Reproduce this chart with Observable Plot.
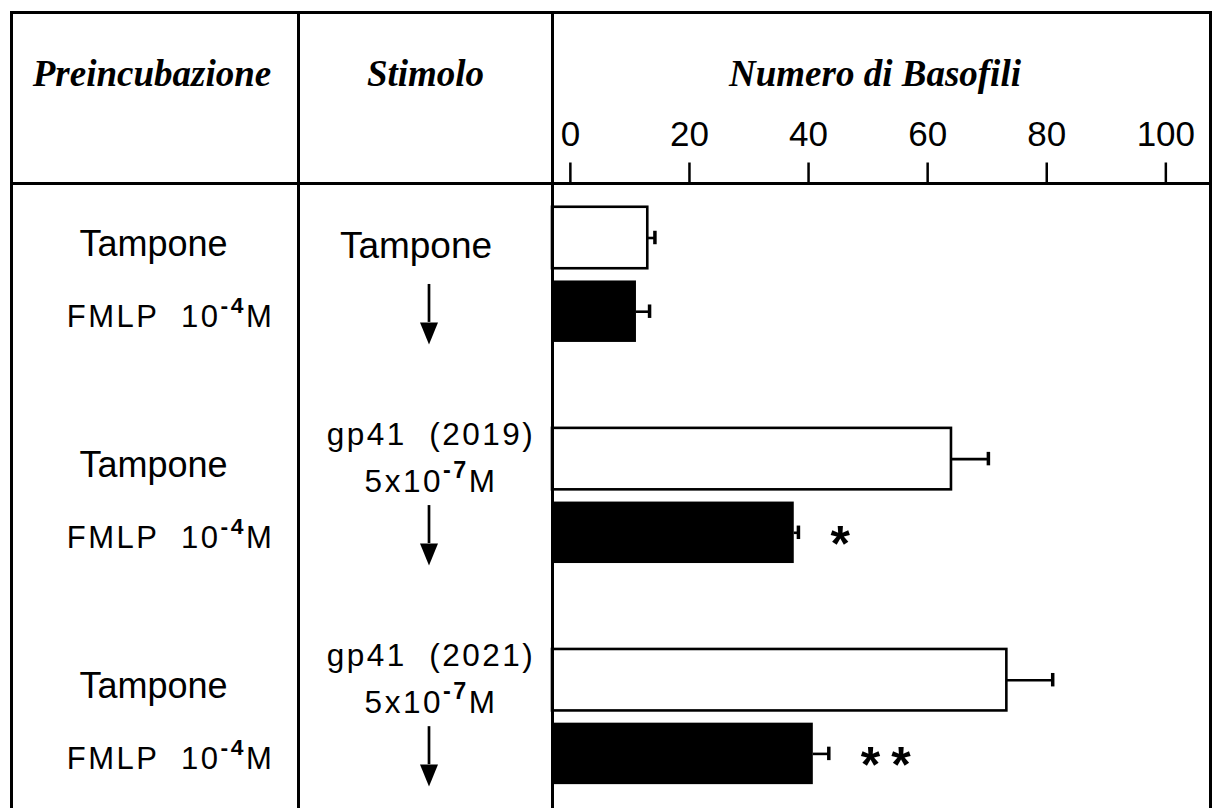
<!DOCTYPE html>
<html>
<head>
<meta charset="utf-8">
<script src="https://cdn.jsdelivr.net/npm/d3@7"></script>
<script src="https://cdn.jsdelivr.net/npm/@observablehq/plot@0.6"></script>
<style>
  html, body { margin: 0; padding: 0; background: #fff; }
  #chart { position: relative; width: 1212px; height: 808px; overflow: hidden; background: #fff; }
  .col { position: absolute; top: 0; }
  .col svg { display: block; overflow: visible; }
  .hdr { position: absolute; top: 55px; font: italic bold 37px/37px "Liberation Serif", "Times New Roman", serif;
         text-align: center; color: #000; white-space: nowrap; }
  .rule { position: absolute; background: #000; }
</style>
</head>
<body>
<div id="chart"></div>
<script>
// ---------------- data ----------------
const headers = ["Preincubazione", "Stimolo", "Numero di Basofili"];
const groups = ["g1", "g2", "g3"];
const preincubazione = ["Tampone", "FMLP  10⁻⁴M"];           // white row, black row
const stimolo = [["Tampone"], ["gp41  (2019)", "5x10⁻⁷M"], ["gp41  (2021)", "5x10⁻⁷M"]];
const bufferValues = [13.0, 64.0, 73.3];   // preincubation with Tampone (white bars)
const bufferErrors = [1.2, 6.2, 7.7];
const fmlpValues = [11.1, 37.6, 40.8];     // preincubation with FMLP (black bars)
const fmlpErrors = [2.2, 0.7, 2.6];
const significance = ["", "*", "**"];
const xTicks = [0, 20, 40, 60, 80, 100];
const xExtent = [-3, 107.5];               // panel spans slightly left of 0 to right border

// ---------------- derived table ----------------
const key = (g, c) => `${g}|${c}`;
const rows = groups.flatMap((g, i) => [
  {group: g, cond: 0, key: key(g, 0), label: preincubazione[0], value: bufferValues[i], err: bufferErrors[i], sig: ""},
  {group: g, cond: 1, key: key(g, 1), label: preincubazione[1], value: fmlpValues[i], err: fmlpErrors[i], sig: significance[i]}
]);
const stim = groups.map((g, i) => ({key: key(g, 0), keyF: key(g, 1), lines: stimolo[i]}));
const rowDomain = groups.flatMap((g, i) =>
  i < groups.length - 1 ? [key(g, 0), key(g, 1), `gap${i}`] : [key(g, 0), key(g, 1)]);

const yScale = () => ({type: "band", domain: rowDomain, range: [200.65, 790.25],
  paddingInner: 0.166, paddingOuter: 0.083, round: false, axis: null});
const baseStyle = {background: "transparent", fontFamily: "Liberation Sans, Arial, sans-serif", overflow: "visible", color: "black"};

const chart = document.getElementById("chart");
function place(node, left, width, cls = "col") {
  const d = document.createElement("div");
  d.className = cls; d.style.left = left + "px"; d.style.width = width + "px";
  d.appendChild(node); chart.appendChild(d); return d;
}

// ---- column 1: Preincubazione ----
const p1 = Plot.plot({
  width: 284, height: 808, margin: 0, y: yScale(), style: baseStyle,
  marks: [
    Plot.text(rows.filter(d => d.cond === 0), {y: "key", text: "label", frameAnchor: "middle", fontSize: 36, dx: -2, dy: 6}),
    Plot.text(rows.filter(d => d.cond === 1), {y: "key", text: "label", frameAnchor: "middle", fontSize: 31, dx: 15, dy: 5})
  ]
});
place(p1, 13, 284);

// ---- column 2: Stimolo ----
const arrowHead = {draw(ctx) { ctx.moveTo(-9, -22); ctx.lineTo(9, -22); ctx.lineTo(0, 0); ctx.closePath(); }};
const p2 = Plot.plot({
  width: 251, height: 808, margin: 0, y: yScale(), style: baseStyle,
  marks: [
    Plot.text(stim.filter(d => d.lines.length === 1), {y: "key", text: d => d.lines[0], frameAnchor: "middle", fontSize: 37, dx: -10, dy: 8}),
    Plot.text(stim.filter(d => d.lines.length === 2), {y: "key", text: d => d.lines[0], frameAnchor: "middle", fontSize: 31.5, dx: 5, dy: -24}),
    Plot.text(stim.filter(d => d.lines.length === 2), {y: "key", text: d => d.lines[1], frameAnchor: "middle", fontSize: 31.5, dx: 5, dy: 23}),
    Plot.ruleX(stim, {x: null, y1: "keyF", y2: "keyF", insetTop: 3.5, insetBottom: 20, strokeWidth: 2.7, dx: 3}),
    Plot.dot(stim, {y: "keyF", frameAnchor: "middle", symbol: arrowHead, r: 10, fill: "black", stroke: "none", dx: 3, dy: 32.7})
  ]
});
place(p2, 300, 251);

// ---- column 3: Numero di Basofili ----
const p3 = Plot.plot({
  width: 660, height: 808, marginTop: 183.5, marginLeft: 0, marginRight: 0, marginBottom: 0,
  x: {domain: xExtent, range: [0, 658]},
  y: yScale(), style: baseStyle,
  marks: [
    Plot.barX(rows.filter(d => d.cond === 0), {x1: xExtent[0], x2: "value", y: "key", fill: "white", stroke: "black", strokeWidth: 2.6}),
    Plot.barX(rows.filter(d => d.cond === 1), {x1: xExtent[0], x2: "value", y: "key", fill: "black"}),
    Plot.ruleY(rows, {y: "key", x1: "value", x2: d => d.value + d.err, strokeWidth: 2.6}),
    Plot.tickX(rows, {x: d => d.value + d.err, y: "key", insetTop: 24, insetBottom: 24, strokeWidth: 3.5}),
    Plot.text(rows.filter(d => d.sig), {x: d => d.value + d.err, y: "key", text: "sig", textAnchor: "start", dx: 32, dy: 12, fontSize: 50, fontWeight: "bold"}),
    Plot.axisX({anchor: "top", ticks: xTicks, tickSize: 22, tickPadding: 16, fontSize: 35, strokeWidth: 2.5, label: null, tickFormat: d => `${d}`})
  ]
});
place(p3, 552, 660);

// ---- header titles (HTML, above the plotted rows) ----
[[13, 284, -6], [300, 251, 0], [554, 655, -13]].forEach(([left, width, shift], i) => {
  const h = document.createElement("div");
  h.className = "hdr"; h.style.left = (left + shift / 2) + "px"; h.style.width = width + "px";
  h.textContent = headers[i];
  chart.appendChild(h);
});

// ---- table rules ----
const lw = 3;
[
  [10, 11, 1202, lw],        // top border
  [10, 182, 1202, lw],       // header line
  [10, 11, lw, 820],         // left border
  [297, 11, lw, 820],        // divider 1
  [551, 11, lw, 820],        // divider 2
  [1209, 11, lw, 820]        // right border
].forEach(([l, t, w, h]) => {
  const d = document.createElement("div");
  d.className = "rule";
  Object.assign(d.style, {left: l + "px", top: t + "px", width: w + "px", height: h + "px"});
  chart.appendChild(d);
});

// ---- typographic touches: letter spacing and real superscripts ----
d3.selectAll("#chart svg text").each(function () {
  if (/FMLP|gp41|5x10/.test(this.textContent)) this.setAttribute("letter-spacing", "2.5");
  if (this.textContent.includes("*")) this.setAttribute("letter-spacing", "11");
});
const SUP = {"⁻": "-", "⁰": "0", "¹": "1", "²": "2", "³": "3", "⁴": "4", "⁵": "5", "⁶": "6", "⁷": "7", "⁸": "8", "⁹": "9"};
function supify(root) {
  const walker = document.createTreeWalker(root, NodeFilter.SHOW_TEXT);
  const nodes = [];
  while (walker.nextNode()) nodes.push(walker.currentNode);
  for (const node of nodes) {
    const s = node.nodeValue;
    if (![...s].some(c => c in SUP)) continue;
    const parent = node.parentNode;
    const fs = parseFloat(getComputedStyle(parent).fontSize) || 31;
    const shift = 0.45 * fs;
    const runs = [];
    let cur = "", curSup = false;
    for (const c of s) {
      const sup = c in SUP;
      if (sup !== curSup && cur) { runs.push([cur, curSup]); cur = ""; }
      curSup = sup; cur += sup ? SUP[c] : c;
    }
    if (cur) runs.push([cur, curSup]);
    const frag = document.createDocumentFragment();
    let raised = false;
    for (const [t, sup] of runs) {
      const ts = document.createElementNS("http://www.w3.org/2000/svg", "tspan");
      ts.textContent = t;
      if (sup) { ts.setAttribute("font-size", (0.74 * fs).toFixed(1)); ts.setAttribute("font-weight", "bold"); if (!raised) ts.setAttribute("dy", (-shift).toFixed(1)); raised = true; }
      else { if (raised) ts.setAttribute("dy", shift.toFixed(1)); raised = false; }
      frag.appendChild(ts);
    }
    parent.replaceChild(frag, node);
  }
}
supify(chart);
</script>
</body>
</html>
